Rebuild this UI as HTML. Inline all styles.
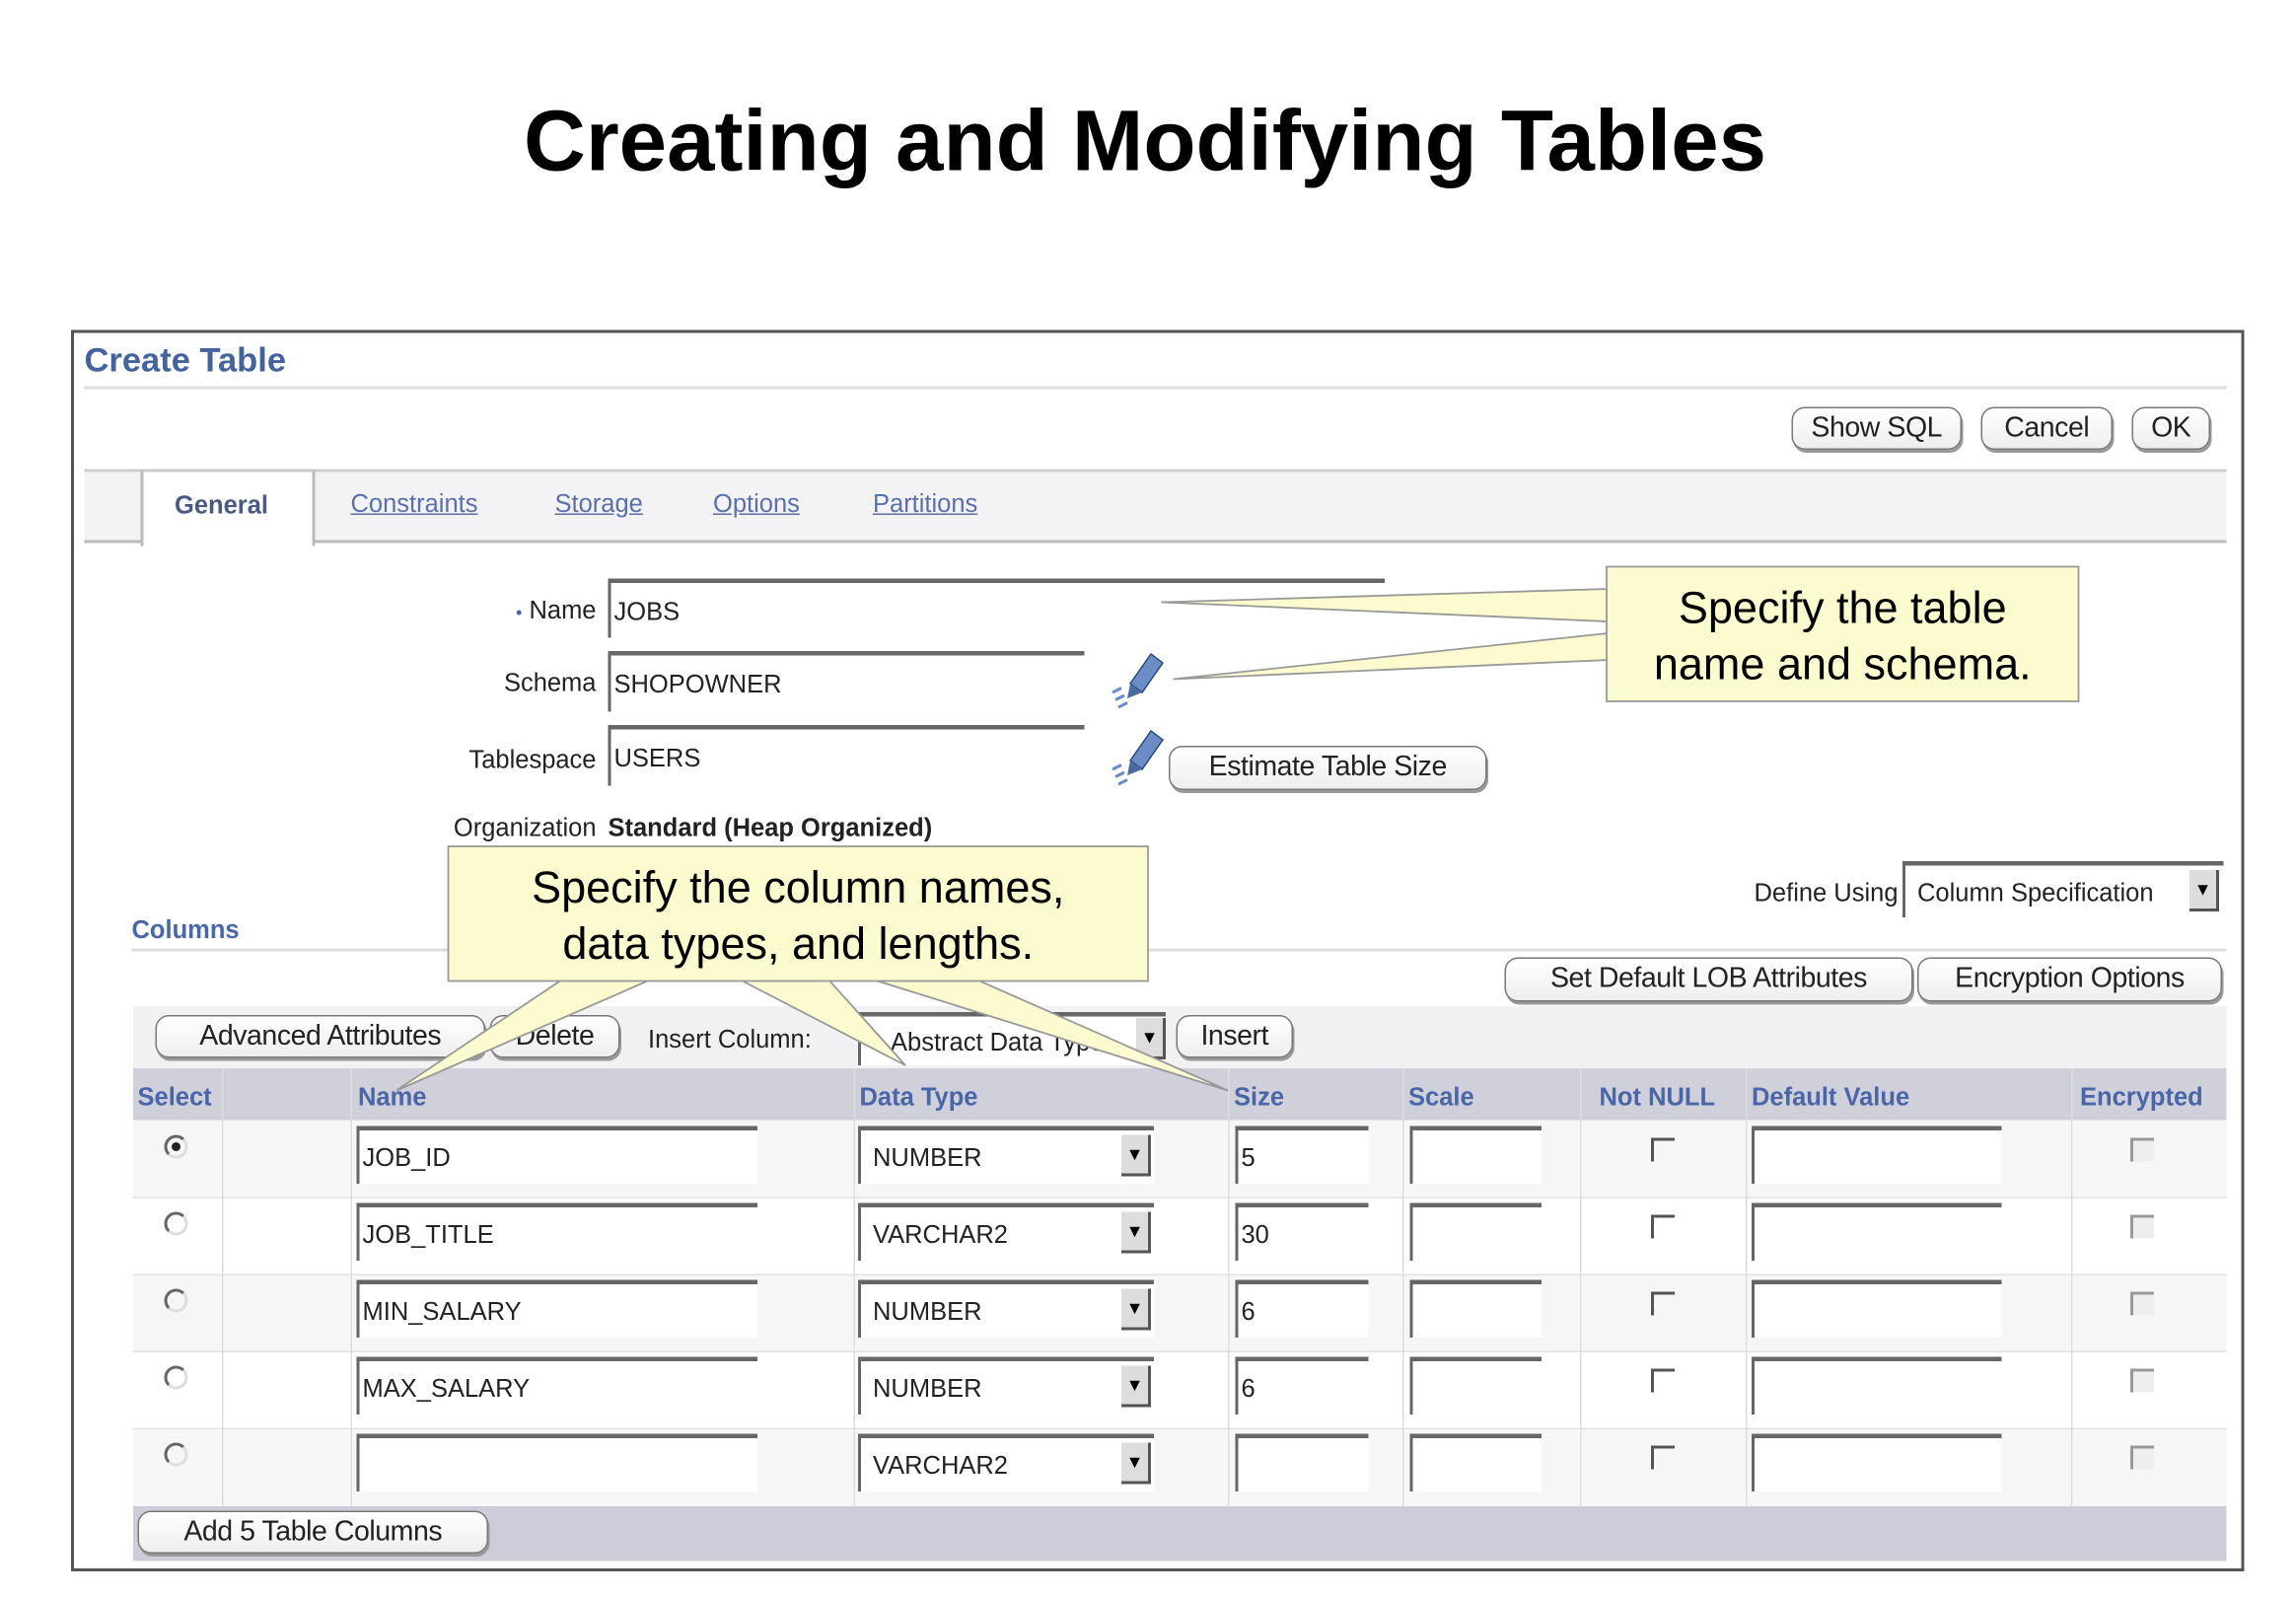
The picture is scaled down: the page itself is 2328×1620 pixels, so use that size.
<!DOCTYPE html>
<html><head><meta charset="utf-8"><style>
html,body{margin:0;padding:0;background:#fff;}
body{width:2328px;height:1620px;overflow:hidden;position:relative;}
#s{position:absolute;left:0;top:0;width:1552px;height:1080px;transform:scale(1.5);transform-origin:0 0;font-family:"Liberation Sans",sans-serif;}
.a{position:absolute;}
.t{position:absolute;white-space:nowrap;font-size:17px;color:#222;line-height:1;}
.btn{position:absolute;border:1px solid #777;border-radius:9px;box-shadow:1px 2px 0 #999;background:linear-gradient(#fff,#eee);font-size:19px;color:#222;text-align:center;box-sizing:border-box;white-space:nowrap;letter-spacing:-0.3px;}
.inp{position:absolute;background:#fff;border-top:3px solid #666;border-left:2px solid #666;box-sizing:border-box;font-size:17px;color:#222;padding-left:2px;white-space:nowrap;}
.lnk{color:#5b6fa8;text-decoration:underline;}
.hd{position:absolute;top:732px;font-size:17px;font-weight:bold;color:#4a66a8;}
.dd{position:absolute;width:18px;height:26px;background:#ddd;border-right:2px solid #555;border-bottom:2px solid #555;font-size:12px;text-align:center;line-height:26px;}
.cb{position:absolute;width:16px;height:16px;border-top:2px solid #555;border-left:2px solid #555;box-sizing:border-box;}
.rad{position:absolute;width:16px;height:16px;border-radius:50%;border:2px solid #666;border-right-color:#ddd;border-bottom-color:#ddd;box-sizing:border-box;}
.vl{position:absolute;top:722px;width:1px;height:296px;background:#ddd;}
</style></head><body><div id="s">
<div class="t" style="left:0;width:1548px;text-align:center;top:67px;font-size:58px;font-weight:bold;color:#000;">Creating and Modifying Tables</div>

<div class="a" style="left:48px;top:223px;width:1465px;height:835px;border:2px solid #555;"></div>
<div class="t" style="left:57px;top:232px;font-size:23px;font-weight:bold;color:#44629c;">Create Table</div>
<div class="a" style="left:57px;top:261px;width:1448px;height:2px;background:#ddd;"></div>

<div class="btn" style="left:1211px;top:275px;width:115px;height:29px;line-height:27px;">Show SQL</div>
<div class="btn" style="left:1339px;top:275px;width:89px;height:29px;line-height:27px;">Cancel</div>
<div class="btn" style="left:1441px;top:275px;width:53px;height:29px;line-height:27px;">OK</div>

<div class="a" style="left:57px;top:317px;width:1448px;height:46px;background:#f3f3f5;border-top:2px solid #ccc;border-bottom:2px solid #bbb;"></div>
<div class="a" style="left:95px;top:317px;width:114px;height:50px;background:#fff;border-left:2px solid #bbb;border-right:2px solid #bbb;border-top:2px solid #ccc;"></div>
<div class="t" style="left:118px;top:333px;font-weight:bold;color:#4a5a80;">General</div>
<div class="t lnk" style="left:237px;top:332px;">Constraints</div>
<div class="t lnk" style="left:375px;top:332px;">Storage</div>
<div class="t lnk" style="left:482px;top:332px;">Options</div>
<div class="t lnk" style="left:590px;top:332px;">Partitions</div>

<div class="t" style="left:250px;width:153px;text-align:right;top:404px;"><span style="color:#4a66a8;font-size:12px;">•</span> Name</div>
<div class="inp" style="left:411px;top:391px;width:525px;height:40px;line-height:40px;">JOBS</div>
<div class="t" style="left:250px;width:153px;text-align:right;top:453px;">Schema</div>
<div class="inp" style="left:411px;top:440px;width:322px;height:41px;line-height:40px;">SHOPOWNER</div>
<div class="t" style="left:250px;width:153px;text-align:right;top:505px;">Tablespace</div>
<div class="inp" style="left:411px;top:490px;width:322px;height:41px;line-height:40px;">USERS</div>
<svg class="a" style="left:748px;top:438px" width="44" height="44"><path d="M30 4 L38 10 L24 30 L16 24 Z" fill="#6b8cc4" stroke="#2c4a80"/><path d="M16 24 L24 30 L14 34 Z" fill="#4a6aa0"/><path d="M4 30 l6 -3 M6 35 l6 -3 M8 40 l6 -3" stroke="#6b8cc4" stroke-width="2"/></svg>
<svg class="a" style="left:748px;top:490px" width="44" height="44"><path d="M30 4 L38 10 L24 30 L16 24 Z" fill="#6b8cc4" stroke="#2c4a80"/><path d="M16 24 L24 30 L14 34 Z" fill="#4a6aa0"/><path d="M4 30 l6 -3 M6 35 l6 -3 M8 40 l6 -3" stroke="#6b8cc4" stroke-width="2"/></svg>
<div class="btn" style="left:790px;top:504px;width:215px;height:30px;line-height:28px;">Estimate Table Size</div>
<div class="t" style="left:250px;width:153px;text-align:right;top:551px;">Organization</div>
<div class="t" style="left:411px;top:551px;font-weight:bold;">Standard (Heap Organized)</div>

<div class="t" style="left:89px;top:620px;font-weight:bold;color:#4a66a8;">Columns</div>
<div class="a" style="left:89px;top:641px;width:1416px;height:2px;background:#ddd;"></div>
<div class="t" style="left:1120px;width:163px;text-align:right;top:595px;">Define Using</div>
<div class="inp" style="left:1286px;top:582px;width:217px;height:38px;line-height:38px;font-size:17px;padding-left:8px;">Column Specification</div>
<div class="dd" style="left:1480px;top:588px;">▼</div>
<div class="btn" style="left:1017px;top:647px;width:276px;height:30px;line-height:28px;">Set Default LOB Attributes</div>
<div class="btn" style="left:1296px;top:647px;width:206px;height:30px;line-height:28px;">Encryption Options</div>

<div class="a" style="left:90px;top:680px;width:1415px;height:42px;background:#f1f1f4;"></div>
<div class="btn" style="left:105px;top:686px;width:223px;height:29px;line-height:27px;">Advanced Attributes</div>
<div class="btn" style="left:331px;top:686px;width:88px;height:29px;line-height:27px;">Delete</div>
<div class="t" style="left:438px;top:694px;">Insert Column:</div>
<div class="inp" style="left:580px;top:684px;width:208px;height:36px;line-height:36px;padding-left:20px;">Abstract Data Type</div>
<div class="dd" style="left:768px;top:688px;">▼</div>
<div class="btn" style="left:795px;top:686px;width:79px;height:29px;line-height:27px;">Insert</div>

<div class="a" style="left:90px;top:722px;width:1415px;height:35px;background:#cfd0da;"></div>
<div class="hd" style="left:93px;">Select</div>
<div class="hd" style="left:242px;">Name</div>
<div class="hd" style="left:581px;">Data Type</div>
<div class="hd" style="left:834px;">Size</div>
<div class="hd" style="left:952px;">Scale</div>
<div class="hd" style="left:1081px;">Not NULL</div>
<div class="hd" style="left:1184px;">Default Value</div>
<div class="hd" style="left:1406px;">Encrypted</div>

<div class="a" style="left:90px;top:757px;width:1415px;height:52px;background:#f6f6f7;border-bottom:2px solid #e2e2e6;"></div>
<div class="a" style="left:90px;top:810px;width:1415px;height:51px;background:#fff;border-bottom:2px solid #e2e2e6;"></div>
<div class="a" style="left:90px;top:862px;width:1415px;height:51px;background:#f6f6f7;border-bottom:2px solid #e2e2e6;"></div>
<div class="a" style="left:90px;top:914px;width:1415px;height:51px;background:#fff;border-bottom:2px solid #e2e2e6;"></div>
<div class="a" style="left:90px;top:966px;width:1415px;height:52px;background:#f6f6f7;"></div>
<div class="vl" style="left:150px"></div><div class="vl" style="left:237px"></div><div class="vl" style="left:577px"></div><div class="vl" style="left:830px"></div><div class="vl" style="left:948px"></div><div class="vl" style="left:1068px"></div><div class="vl" style="left:1180px"></div><div class="vl" style="left:1400px"></div>

<div class="rad" style="left:111px;top:767px;"><div style="position:absolute;left:3px;top:3px;width:6px;height:6px;border-radius:50%;background:#222;"></div></div>
<div class="inp" style="left:241px;top:761px;width:271px;height:39px;line-height:38px;">JOB_ID</div>
<div class="inp" style="left:580px;top:761px;width:200px;height:39px;line-height:38px;padding-left:8px;">NUMBER</div><div class="dd" style="left:758px;top:767px;">▼</div>
<div class="inp" style="left:835px;top:761px;width:90px;height:39px;line-height:38px;">5</div>
<div class="inp" style="left:953px;top:761px;width:89px;height:39px;"></div>
<div class="cb" style="left:1116px;top:769px;"></div>
<div class="inp" style="left:1184px;top:761px;width:169px;height:39px;"></div>
<div class="cb" style="left:1440px;top:769px;border-color:#999;background:#eee;"></div>

<div class="rad" style="left:111px;top:819px;"></div>
<div class="inp" style="left:241px;top:813px;width:271px;height:39px;line-height:38px;">JOB_TITLE</div>
<div class="inp" style="left:580px;top:813px;width:200px;height:39px;line-height:38px;padding-left:8px;">VARCHAR2</div><div class="dd" style="left:758px;top:819px;">▼</div>
<div class="inp" style="left:835px;top:813px;width:90px;height:39px;line-height:38px;">30</div>
<div class="inp" style="left:953px;top:813px;width:89px;height:39px;"></div>
<div class="cb" style="left:1116px;top:821px;"></div>
<div class="inp" style="left:1184px;top:813px;width:169px;height:39px;"></div>
<div class="cb" style="left:1440px;top:821px;border-color:#999;background:#eee;"></div>

<div class="rad" style="left:111px;top:871px;"></div>
<div class="inp" style="left:241px;top:865px;width:271px;height:39px;line-height:38px;">MIN_SALARY</div>
<div class="inp" style="left:580px;top:865px;width:200px;height:39px;line-height:38px;padding-left:8px;">NUMBER</div><div class="dd" style="left:758px;top:871px;">▼</div>
<div class="inp" style="left:835px;top:865px;width:90px;height:39px;line-height:38px;">6</div>
<div class="inp" style="left:953px;top:865px;width:89px;height:39px;"></div>
<div class="cb" style="left:1116px;top:873px;"></div>
<div class="inp" style="left:1184px;top:865px;width:169px;height:39px;"></div>
<div class="cb" style="left:1440px;top:873px;border-color:#999;background:#eee;"></div>

<div class="rad" style="left:111px;top:923px;"></div>
<div class="inp" style="left:241px;top:917px;width:271px;height:39px;line-height:38px;">MAX_SALARY</div>
<div class="inp" style="left:580px;top:917px;width:200px;height:39px;line-height:38px;padding-left:8px;">NUMBER</div><div class="dd" style="left:758px;top:923px;">▼</div>
<div class="inp" style="left:835px;top:917px;width:90px;height:39px;line-height:38px;">6</div>
<div class="inp" style="left:953px;top:917px;width:89px;height:39px;"></div>
<div class="cb" style="left:1116px;top:925px;"></div>
<div class="inp" style="left:1184px;top:917px;width:169px;height:39px;"></div>
<div class="cb" style="left:1440px;top:925px;border-color:#999;background:#eee;"></div>

<div class="rad" style="left:111px;top:975px;"></div>
<div class="inp" style="left:241px;top:969px;width:271px;height:39px;"></div>
<div class="inp" style="left:580px;top:969px;width:200px;height:39px;line-height:38px;padding-left:8px;">VARCHAR2</div><div class="dd" style="left:758px;top:975px;">▼</div>
<div class="inp" style="left:835px;top:969px;width:90px;height:39px;"></div>
<div class="inp" style="left:953px;top:969px;width:89px;height:39px;"></div>
<div class="cb" style="left:1116px;top:977px;"></div>
<div class="inp" style="left:1184px;top:969px;width:169px;height:39px;"></div>
<div class="cb" style="left:1440px;top:977px;border-color:#999;background:#eee;"></div>

<div class="a" style="left:90px;top:1018px;width:1415px;height:37px;background:#cccdd8;"></div>
<div class="btn" style="left:93px;top:1021px;width:237px;height:29px;line-height:27px;">Add 5 Table Columns</div>

<svg class="a" style="left:0;top:0" width="1552" height="1080">
<g fill="#fbfbcf" stroke="#999" stroke-width="1.2">
<polygon points="1087,398 785,407 1087,420"/>
<polygon points="1087,428 793,459 1087,446"/>
<rect x="1086" y="383" width="319" height="91"/>
<polygon points="380,662 268,737 440,662"/>
<polygon points="500,662 612,720 560,662"/>
<polygon points="590,662 830,737 660,662"/>
<rect x="303" y="572" width="473" height="91"/>
</g>
<g fill="#fbfbcf"><rect x="1087.5" y="384.5" width="4" height="88"/><rect x="304" y="655" width="471" height="7"/></g>
</svg>
<div class="t" style="left:1086px;width:319px;text-align:center;top:393px;font-size:30px;line-height:38px;color:#000;">Specify the table<br>name and schema.</div>
<div class="t" style="left:303px;width:473px;text-align:center;top:582px;font-size:30px;line-height:38px;color:#000;">Specify the column names,<br>data types, and lengths.</div>
</div></body></html>
